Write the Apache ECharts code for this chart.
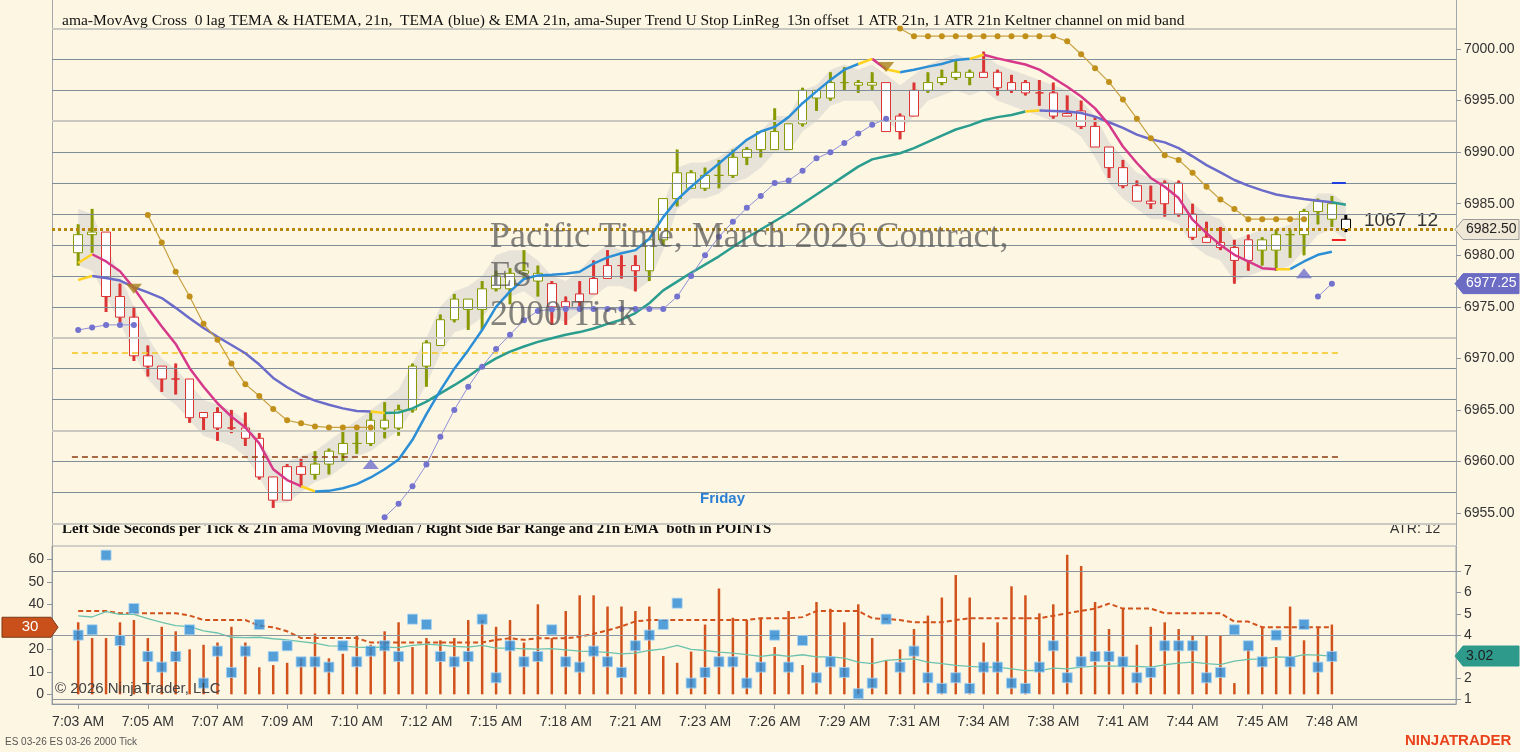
<!DOCTYPE html>
<html>
<head>
<meta charset="utf-8">
<title>ES 03-26 2000 Tick</title>
<script src="https://cdn.jsdelivr.net/npm/echarts@6.0.0/dist/echarts.min.js"></script>
<style>
  html, body { margin: 0; padding: 0; background: #fdf6e3; }
  #chart { width: 1520px; height: 752px; }
</style>
</head>
<body>
<div id="chart"></div>
<script>
// ---------- data ----------
// x labels, one every 5 bars starting at bar 0
const timeLabels = ['7:03 AM','7:05 AM','7:07 AM','7:09 AM','7:10 AM','7:12 AM','7:15 AM','7:18 AM','7:21 AM',
  '7:23 AM','7:26 AM','7:29 AM','7:31 AM','7:34 AM','7:38 AM','7:41 AM','7:44 AM','7:45 AM','7:48 AM'];
const priceTicks = [6955, 6960, 6965, 6970, 6975, 6980, 6985, 6990, 6995, 7000];
const priceGrid = [6954, 6957, 6960, 6963, 6966, 6969, 6972, 6975, 6978, 6981, 6984, 6987, 6990, 6993, 6996, 6999, 7002];
const priceGridLight = [6954, 6963, 6972, 6993, 7002];
const secTicks = [0, 10, 20, 30, 40, 50, 60];
const ptsTicks = [1, 2, 3, 4, 5, 6, 7];
const ptsGrid = [1, 4, 7];

// [open, close, low, high]
const candles = [
  [6980.25,6982.0,6979.0,6983.0],[6982.0,6982.25,6980.25,6984.5],[6982.25,6976.0,6974.5,6982.25],[6976.0,6974.0,6973.5,6977.25],
  [6974.0,6970.25,6969.75,6975.0],[6970.25,6969.25,6968.25,6971.25],[6969.25,6968.0,6966.75,6969.25],[6968.0,6968.0,6966.5,6969.5],
  [6968.0,6964.25,6963.75,6968.0],[6964.25,6964.75,6963.0,6964.75],[6964.75,6963.25,6962.0,6965.25],[6963.25,6963.25,6962.75,6965.0],
  [6963.25,6962.25,6961.5,6964.75],[6962.25,6958.5,6958.25,6962.75],[6958.5,6956.25,6955.5,6958.5],[6956.25,6959.5,6956.25,6959.75],
  [6959.5,6958.75,6957.5,6960.25],[6958.75,6959.75,6958.25,6961.0],[6959.75,6961.0,6958.75,6961.25],[6960.75,6961.75,6960.0,6963.5],
  [6961.75,6961.75,6960.75,6963.5],[6961.75,6964.0,6961.5,6964.75],[6964.0,6963.25,6962.25,6965.75],[6963.25,6965.0,6962.5,6965.5],
  [6965.0,6969.25,6964.75,6969.5],[6969.25,6971.5,6967.25,6971.75],[6971.25,6973.75,6971.25,6974.25],[6973.75,6975.75,6973.5,6976.25],
  [6975.75,6974.75,6972.75,6975.75],[6974.75,6976.75,6972.75,6977.5],[6976.75,6978.0,6976.5,6978.5],[6976.75,6978.25,6975.25,6978.75],
  [6978.25,6978.5,6977.75,6980.5],[6978.25,6977.5,6976.0,6979.0],[6977.25,6975.0,6973.25,6977.5],[6975.0,6975.5,6973.25,6976.0],
  [6975.5,6976.25,6975.0,6977.5],[6976.25,6977.75,6976.25,6979.5],[6977.75,6979.0,6977.75,6980.5],[6979.0,6979.0,6977.75,6980.0],
  [6979.0,6978.5,6976.5,6980.0],[6978.5,6981.5,6977.5,6981.5],[6981.5,6985.5,6981.0,6985.5],[6985.5,6988.0,6984.75,6990.25],
  [6988.0,6986.5,6986.5,6988.25],[6986.5,6987.75,6986.25,6988.5],[6987.75,6987.75,6986.5,6989.25],[6987.75,6989.5,6987.5,6990.25],
  [6989.5,6990.25,6988.75,6990.5],[6990.25,6992.0,6989.5,6992.0],[6992.0,6990.25,6990.25,6994.25],[6990.25,6992.75,6990.25,6992.75],
  [6992.75,6996.0,6992.5,6996.25],[6996.0,6995.25,6994.0,6996.0],[6995.25,6996.75,6995.0,6997.75],[6996.75,6996.75,6996.0,6998.25],
  [6996.75,6996.5,6995.75,6997.0],[6996.5,6996.75,6996.0,6997.75],[6996.75,6992.0,6992.0,6996.75],[6992.0,6993.5,6991.25,6993.75],
  [6993.5,6996.0,6993.5,6996.75],[6996.0,6996.75,6995.75,6997.75],[6996.75,6997.25,6996.5,6998.0],[6997.25,6997.75,6997.0,6999.0],
  [6997.75,6997.25,6996.5,6998.0],[6997.25,6997.75,6997.25,6999.75],[6997.75,6996.25,6995.5,6998.0],[6996.0,6996.75,6995.75,6997.5],
  [6996.75,6995.75,6995.5,6997.0],[6995.75,6995.75,6994.5,6997.0],[6995.75,6993.5,6993.25,6996.75],[6993.5,6993.75,6993.5,6995.5],
  [6994.0,6992.5,6992.25,6995.0],[6992.5,6990.5,6990.5,6993.5],[6990.5,6988.5,6987.5,6990.5],[6988.5,6986.75,6986.5,6989.25],
  [6986.75,6985.25,6985.25,6987.25],[6985.25,6985.0,6984.5,6986.75],[6985.0,6987.0,6983.75,6987.25],[6987.0,6984.0,6983.75,6987.25],
  [6984.0,6981.75,6981.5,6985.0],[6981.75,6981.25,6981.25,6983.25],[6981.25,6980.75,6980.5,6982.75],[6980.75,6979.5,6977.25,6981.5],
  [6979.5,6981.5,6978.5,6982.0],[6981.5,6980.5,6979.0,6981.75],[6980.5,6982.0,6978.5,6982.5],[6982.0,6982.0,6979.75,6982.5],
  [6982.0,6984.25,6980.0,6984.5],[6984.25,6985.25,6983.0,6985.5],[6985.0,6983.5,6982.75,6985.75],[6983.5,6982.5,6982.25,6984.0]
];
// outline / wick colour per bar, run-length: g = up trend, r = down trend, k = live bar
const candleRuns = [['g',2],['r',15],['g',17],['r',7],['g',17],['r',3],['g',4],['r',20],['g',6],['k',1]];

// Keltner channel shading
const bandLo = [6979.0,6978.5,6976.0,6973.5,6970.5,6968.0,6966.5,6965.5,6964.0,6962.5,6962.0,6961.5,6960.5,6958.5,6956.0,6956.0,
  6957.0,6958.0,6958.5,6959.5,6960.5,6961.0,6962.0,6963.0,6965.0,6967.5,6970.5,6972.5,6973.0,6974.0,6975.5,6976.0,
  6976.5,6975.5,6974.0,6973.5,6974.5,6976.0,6977.0,6977.0,6976.5,6977.5,6980.5,6984.5,6985.5,6985.5,6986.0,6987.0,
  6987.5,6988.5,6990.0,6990.0,6992.0,6993.0,6994.5,6995.0,6995.0,6995.0,6993.0,6992.0,6993.5,6995.0,6995.5,6996.0,
  6995.5,6996.0,6995.0,6994.5,6994.0,6993.5,6993.0,6992.5,6991.5,6989.5,6987.0,6985.5,6984.5,6983.5,6983.5,6983.0,
  6981.0,6980.0,6979.5,6977.5,6978.0,6978.5,6978.5,6979.0,6980.5,6982.0,6982.5,6981.5];
const bandHi = [6984.5,6984.0,6981.0,6978.0,6975.0,6972.0,6970.0,6969.0,6967.5,6966.0,6965.5,6965.0,6964.0,6962.0,6960.0,6960.0,
  6960.5,6961.0,6962.0,6963.0,6964.0,6965.0,6966.0,6967.0,6969.5,6972.0,6975.0,6976.5,6977.0,6978.0,6980.0,6980.5,
  6980.5,6979.5,6978.0,6977.5,6978.5,6980.0,6981.0,6980.5,6980.5,6981.5,6985.0,6988.5,6989.0,6989.0,6989.5,6990.5,
  6991.0,6992.0,6993.5,6993.5,6996.0,6996.5,6998.0,6998.5,6998.0,6998.5,6997.5,6996.5,6997.5,6998.5,6999.0,6999.5,
  6999.0,6999.5,6998.5,6998.0,6997.5,6997.0,6996.5,6996.0,6995.0,6993.5,6991.0,6989.5,6988.0,6987.5,6987.5,6987.0,
  6985.0,6984.0,6983.5,6981.5,6982.0,6982.5,6982.5,6983.0,6984.5,6986.0,6986.0,6985.0];

// 0 lag TEMA / HATEMA line; segment colours: a = down (pink), b = up (blue), y = cross
const temaVals = [6979.25,6980.1,6979.4,6978.45,6976.8,6974.9,6973.1,6971.4,6969.05,6967.25,6965.65,6964.35,6963.3,6961.75,6959.25,6958.2,
  6957.6,6957.1,6957.15,6957.4,6957.8,6958.45,6959.25,6960.2,6962.1,6964.6,6966.9,6969.0,6970.8,6972.75,6975.0,6976.5,
  6977.7,6978.05,6978.1,6978.2,6978.4,6979.2,6979.8,6980.2,6980.5,6981.6,6983.7,6985.4,6986.65,6987.8,6988.9,6990.05,
  6991.2,6992.0,6992.45,6993.4,6994.75,6995.9,6997.0,6998.0,6998.55,6999.05,6998.05,6997.75,6998.0,6998.3,6998.55,6998.95,
  6999.05,6999.45,6999.1,6998.8,6998.5,6998.0,6997.2,6996.35,6995.4,6994.25,6992.65,6990.55,6988.95,6987.5,6986.65,6985.55,
  6983.45,6982.15,6981.0,6980.05,6979.4,6978.75,6978.65,6978.65,6979.4,6980.05,6980.35,null];
const temaRuns = [['y',1],['a',15],['y',1],['b',39],['y',1],['a',1],['y',1],['b',5],['y',1],['a',21],['y',1],['b',3],['-',1]];

// EMA 21 line; a = down (slate blue), b = up (teal)
const emaVals = [6977.6,6978.0,6977.8,6977.55,6976.9,6976.4,6975.85,6974.9,6973.9,6972.95,6972.1,6971.3,6970.5,6969.4,6968.1,6967.2,
  6966.45,6965.9,6965.5,6965.15,6964.9,6964.85,6964.7,6964.75,6965.15,6965.8,6966.6,6967.4,6968.25,6969.2,6970.0,6970.65,
  6971.15,6971.6,6971.95,6972.3,6972.55,6972.9,6973.35,6973.75,6974.4,6975.35,6976.6,6977.45,6978.3,6979.1,6979.9,6980.8,
  6981.7,6982.5,6983.3,6984.1,6985.0,6985.9,6986.8,6987.7,6988.6,6989.3,6989.6,6989.9,6990.4,6991.0,6991.6,6992.2,
  6992.6,6993.1,6993.4,6993.6,6993.95,6994.05,6994.0,6993.95,6993.8,6993.45,6992.9,6992.35,6991.7,6991.25,6990.95,6990.4,
  6989.6,6988.75,6988.05,6987.3,6986.75,6986.3,6985.9,6985.65,6985.45,6985.3,6985.15,6984.9];
const emaRuns = [['y',1],['a',20],['y',1],['b',46],['y',1],['a',21],['b',1]];

// Super Trend stops: [first bar, values]
const stUpSegs = [
  [0, [6972.75,6973.0,6973.25,6973.25,6973.25]],
  [22, [6954.6,6955.9,6957.6,6959.7,6962.4,6965.0,6967.25,6969.2,6970.9,6972.3,6973.7,6974.6,6974.75,6974.8,6974.8,6974.8,
        6974.8,6974.8,6974.8,6974.8,6974.8,6976.0,6978.0,6980.0,6981.8,6983.25,6984.6,6985.75,6987.0,6987.25,6988.2,6989.4,
        6990.0,6990.9,6991.8,6992.65,6993.25]],
  [89, [6976.0,6977.25]]
];
const stDnSegs = [
  [5, [6983.9,6981.25,6978.4,6976.0,6973.35,6971.8,6969.5,6967.5,6966.35,6965.1,6964.0,6963.7,6963.4,6963.3,6963.3,6963.3,6963.3]],
  [59, [7002.0,7001.25,7001.25,7001.25,7001.25,7001.25,7001.25,7001.25,7001.25,7001.25,7001.25,7001.25,7000.75,6999.5,6998.15,
        6996.8,6995.1,6993.25,6991.35,6989.7,6989.25,6988.0,6986.65,6985.4,6984.5,6983.5,6983.5,6983.5,6983.5,6983.5]]
];
const flipDown = [[4, 6976.75], [58, 6998.25]];
const flipUp = [[21, 6959.75], [88, 6978.25]];
const levelHigh = 6970.5, levelLow = 6960.5;
const projHigh = 6987.0, projLow = 6981.5;

// lower panel
const secPerTick = [32,25,25,32,33,25,30,28,20,22,23,30,23,12,13,14,16,27,16,18,26,22,28,32,21,25,24,25,33,33,30,33,
  23,40,25,37,44,44,39,39,37,39,17,14,19,31,47,34,33,34,21,37,13,41,38,32,40,25,15,20,29,35,
  43,53,43,23,32,48,44,36,40,62,57,41,29,38,22,30,32,29,26,26,26,5,20,30,21,39,24,30,31];
const secMedian = [37,37,37,36,36,36,36,36,35,33,33,33,33,30.5,29.8,28,25,25,25,25,25,23,23,23,23,23,23,23,23,23,24.2,24.9,
  24.2,24.9,24.9,24.9,25.6,26.9,28.4,30.2,32.4,33,33,33,33,33,33,33,33,33.8,33.8,33.8,34.3,37,37,37,37,33.8,33.5,33,32,32,
  32,33,33.8,33.8,33.8,33.8,33.8,33.8,34.9,36,37.1,38.1,40.3,38.1,38.1,38.1,36,36,36,36,36,32.3,32.3,29.8,29.8,29.8,29.8,29.8,29.8];
const barRange = [4.0,4.25,7.75,3.75,5.25,3.0,2.5,3.0,4.25,1.75,3.25,2.25,3.25,4.5,3.0,3.5,2.75,2.75,2.5,3.5,2.75,3.25,3.5,3.0,
  4.75,4.5,3.0,2.75,3.0,4.75,2.0,3.5,2.75,3.0,4.25,2.75,2.5,3.25,2.75,2.25,3.5,4.0,4.5,5.5,1.75,2.25,2.75,2.75,
  1.75,2.5,4.0,2.5,3.75,2.0,2.75,2.25,1.25,1.75,4.75,2.5,3.25,2.0,1.5,2.0,1.5,2.5,2.5,1.75,1.5,2.5,3.5,2.0,
  2.75,3.0,3.0,2.75,2.0,2.25,3.5,3.5,3.5,2.0,2.25,4.25,3.5,2.75,4.0,2.75,4.5,2.5,3.0];
const rangeEma = [4.9,4.85,5.1,4.97,4.97,4.77,4.6,4.45,4.4,4.2,4.1,3.9,3.88,3.9,3.83,3.78,3.7,3.62,3.5,3.48,3.44,3.42,3.44,3.41,
  3.52,3.58,3.53,3.47,3.44,3.52,3.39,3.39,3.36,3.34,3.37,3.31,3.25,3.23,3.19,3.12,3.16,3.28,3.36,3.52,3.33,3.28,3.2,3.16,
  3.09,3.0,3.08,3.0,3.08,2.98,2.98,2.92,2.73,2.66,2.82,2.86,2.89,2.73,2.66,2.58,2.53,2.5,2.5,2.42,2.34,2.34,2.45,2.42,
  2.5,2.55,2.55,2.55,2.53,2.5,2.61,2.69,2.73,2.66,2.62,2.78,2.86,2.89,2.98,2.95,3.09,3.06,3.02];

// ---------- build ----------
const SERIF = '"Liberation Serif", "DejaVu Serif", serif';
const SANS = '"Liberation Sans", Arial, sans-serif';
const OLIVE = '#879a03', RED = '#dc3333';
const trendColour = { g: OLIVE, r: RED, k: '#000000' };

function expand(runs) { return runs.map(r => r[0].repeat(r[1])).join(''); }
const candleTrend = expand(candleRuns);

function colouredLine(values, runs, palette, width, z) {
  const codes = expand(runs);
  return Object.keys(palette).map(code => {
    const data = [];
    let last = -5;
    for (let i = 0; i < codes.length; i++) {
      if (codes[i] !== code) continue;
      if (last !== i) {
        if (data.length) data.push([i, null]);
        data.push([i, values[i]]);
      }
      data.push([i + 1, values[i + 1]]);
      last = i + 1;
    }
    return { type: 'line', xAxisIndex: 0, yAxisIndex: 0, data, showSymbol: false, connectNulls: false,
      lineStyle: { color: palette[code], width }, z, silent: true };
  });
}

function segData(segs) {
  const d = [];
  segs.forEach(([start, vals], k) => {
    if (k) d.push([start - 0.5, null]);
    vals.forEach((v, j) => d.push([start + j, v]));
  });
  return d;
}

const X_MIN = -1.88, X_MAX = 98.91;
const P_MIN = 6951.9, P_MAX = 7004.76;
const labelIdx = timeLabels.map((t, k) => k * 5);

const gridLines = priceGrid.map(v => ({
  yAxis: v,
  lineStyle: priceGridLight.includes(v) ? { color: '#c9c9c1', width: 2, type: 'solid' } : { color: '#7f8d99', width: 1, type: 'solid' }
}));

const axisGrey = '#a3a8ad', tickGrey = '#8f979e';

const option = {
  backgroundColor: '#fdf6e3',
  animation: false,
  grid: [
    { left: 52, right: 64, top: 0, height: 545 },
    { left: 52, right: 64, top: 546, height: 158, show: true, borderColor: axisGrey, borderWidth: 1, backgroundColor: 'transparent' }
  ],
  xAxis: [
    { type: 'value', gridIndex: 0, min: X_MIN, max: X_MAX, show: false, axisLine: { onZero: false } },
    { type: 'value', gridIndex: 1, min: X_MIN, max: X_MAX, position: 'bottom',
      axisLine: { show: true, onZero: false, lineStyle: { color: tickGrey } },
      axisTick: { show: true, customValues: labelIdx, length: 5, lineStyle: { color: tickGrey } },
      axisLabel: { customValues: labelIdx, formatter: v => timeLabels[Math.round(v / 5)] || '', color: '#333', fontFamily: SANS, fontSize: 14, margin: 11 },
      splitLine: { show: false } }
  ],
  yAxis: [
    { type: 'value', gridIndex: 0, position: 'right', min: P_MIN, max: P_MAX,
      axisLine: { show: true, onZero: false, lineStyle: { color: axisGrey } },
      axisTick: { show: true, customValues: priceTicks, length: 5, lineStyle: { color: tickGrey } },
      axisLabel: { customValues: priceTicks, formatter: v => v.toFixed(2), color: '#333', fontFamily: SANS, fontSize: 14, margin: 8 },
      splitLine: { show: false } },
    { type: 'value', gridIndex: 0, position: 'left', min: P_MIN, max: P_MAX,
      axisLine: { show: true, onZero: false, lineStyle: { color: axisGrey } }, axisTick: { show: false }, axisLabel: { show: false }, splitLine: { show: false } },
    { type: 'value', gridIndex: 1, position: 'left', min: -4.3, max: 65.9,
      axisLine: { show: true, onZero: false, lineStyle: { color: tickGrey } },
      axisTick: { show: true, customValues: secTicks, length: 5, lineStyle: { color: tickGrey } },
      axisLabel: { customValues: secTicks, color: '#333', fontFamily: SANS, fontSize: 14, margin: 8 },
      splitLine: { show: false } },
    { type: 'value', gridIndex: 1, position: 'right', min: 0.77, max: 8.18,
      axisLine: { show: true, onZero: false, lineStyle: { color: axisGrey } },
      axisTick: { show: true, customValues: ptsTicks, length: 5, lineStyle: { color: tickGrey } },
      axisLabel: { customValues: ptsTicks, color: '#333', fontFamily: SANS, fontSize: 14, margin: 8 },
      splitLine: { show: false } }
  ],
  series: [
    // price grid lines
    { type: 'line', xAxisIndex: 0, yAxisIndex: 0, data: [[0, candles[0][1]]], showSymbol: false, lineStyle: { opacity: 0 }, silent: true, z: 0,
      markLine: { silent: true, symbol: 'none', label: { show: false }, animation: false, data: gridLines } },
    // Keltner shading
    { type: 'custom', xAxisIndex: 0, yAxisIndex: 0, silent: true, z: 1, data: [[0, bandLo[0]]],
      renderItem: (params, api) => {
        const pts = [];
        for (let i = 0; i < bandHi.length; i++) pts.push(api.coord([i, bandHi[i]]));
        for (let i = bandLo.length - 1; i >= 0; i--) pts.push(api.coord([i, bandLo[i]]));
        return { type: 'polygon', shape: { points: pts }, style: { fill: 'rgba(200,200,200,0.42)' } };
      } },
    // horizontal levels
    { type: 'line', xAxisIndex: 0, yAxisIndex: 0, data: [[0, candles[0][1]]], showSymbol: false, lineStyle: { opacity: 0 }, silent: true, z: 2,
      markLine: { silent: true, symbol: 'none', label: { show: false }, animation: false, data: [
        [{ coord: [-0.45, levelHigh], lineStyle: { color: '#f5c518', width: 1.5, type: [6, 4] } }, { coord: [90.5, levelHigh] }],
        [{ coord: [-0.45, levelLow], lineStyle: { color: '#8b3b12', width: 1.5, type: [6, 4] } }, { coord: [90.5, levelLow] }]
      ] } },
    // wicks
    { type: 'custom', xAxisIndex: 0, yAxisIndex: 0, silent: true, z: 3,
      data: candles.map((c, i) => [i, c[2], c[3]]),
      encode: { x: 0, y: [1, 2] },
      renderItem: (params, api) => {
        const i = api.value(0);
        const lo = api.coord([i, api.value(1)]);
        const hi = api.coord([i, api.value(2)]);
        return { type: 'rect', shape: { x: hi[0] - 1.5, y: hi[1], width: 3, height: Math.max(1, lo[1] - hi[1]) },
          style: { fill: trendColour[candleTrend[i]] } };
      } },
    // candle bodies
    { type: 'candlestick', xAxisIndex: 0, yAxisIndex: 0, barWidth: 9, silent: true, z: 4,
      data: candles.map((c, i) => ({
        value: [i, c[0], c[1], c[2], c[3]],
        itemStyle: { color: '#ffffff', color0: '#000000', borderColor: trendColour[candleTrend[i]], borderColor0: trendColour[candleTrend[i]], borderWidth: 1 }
      })),
      markLine: { silent: true, symbol: 'none', label: { show: false }, animation: false, data: [
        { yAxis: candles[candles.length - 1][1], lineStyle: { color: '#b8860b', width: 3, type: [3, 3] } },
        [{ coord: [90, projHigh], lineStyle: { color: '#1f3fe0', width: 2, type: 'solid' } }, { coord: [91, projHigh] }],
        [{ coord: [90, projLow], lineStyle: { color: '#ee2020', width: 2, type: 'solid' } }, { coord: [91, projLow] }]
      ] } },
    ...colouredLine(emaVals, emaRuns, { a: '#6b6bc9', b: '#2a9d8f', y: '#ffd21f' }, 2.5, 5),
    ...colouredLine(temaVals, temaRuns, { a: '#d6398a', b: '#2c8fd6', y: '#ffd21f' }, 2.5, 6),
    // super trend stops
    { type: 'line', xAxisIndex: 0, yAxisIndex: 0, data: segData(stDnSegs), connectNulls: false, symbol: 'circle', symbolSize: 6, showSymbol: true,
      itemStyle: { color: '#c0901a' }, lineStyle: { color: '#c8a040', width: 1.2 }, silent: true, z: 7 },
    { type: 'line', xAxisIndex: 0, yAxisIndex: 0, data: segData(stUpSegs), connectNulls: false, symbol: 'circle', symbolSize: 6, showSymbol: true,
      itemStyle: { color: '#7373cf' }, lineStyle: { color: '#9090d8', width: 1 }, silent: true, z: 7 },
    { type: 'scatter', xAxisIndex: 0, yAxisIndex: 0, data: flipDown, symbol: 'triangle', symbolRotate: 180, symbolSize: [16, 10],
      itemStyle: { color: '#a8801a' }, silent: true, z: 8 },
    { type: 'scatter', xAxisIndex: 0, yAxisIndex: 0, data: flipUp, symbol: 'triangle', symbolSize: [16, 10],
      itemStyle: { color: '#6f6fcc' }, silent: true, z: 8 },

    // lower panel
    { type: 'bar', xAxisIndex: 1, yAxisIndex: 2, data: secPerTick.map((v, i) => [i, v]), barWidth: 2.5,
      itemStyle: { color: '#d2521c' }, silent: true, z: 3 },
    { type: 'line', xAxisIndex: 1, yAxisIndex: 2, data: secMedian.map((v, i) => [i, v]), showSymbol: false,
      lineStyle: { color: '#d2521c', width: 2, type: [5, 3] }, silent: true, z: 4 },
    { type: 'line', xAxisIndex: 1, yAxisIndex: 3, data: rangeEma.map((v, i) => [i, v]), showSymbol: false,
      lineStyle: { color: '#6cc3ad', width: 1.3 }, silent: true, z: 4,
      markLine: { silent: true, symbol: 'none', label: { show: false }, animation: false,
        data: ptsGrid.map(v => ({ yAxis: v, lineStyle: { color: tickGrey, width: 1, type: 'solid' } })) } },
    { type: 'scatter', xAxisIndex: 1, yAxisIndex: 3, data: barRange.map((v, i) => [i, v]), symbol: 'rect', symbolSize: 10,
      itemStyle: { color: '#2a8ad6', borderColor: '#a9d4f2', borderWidth: 1 }, silent: true, z: 5 }
  ]
};

const chart = echarts.init(document.getElementById('chart'), null, { renderer: 'canvas' });
chart.setOption(option);

// ---------- text & value flags ----------
const yPrice = v => chart.convertToPixel({ yAxisIndex: 0 }, v);
const ySec = v => chart.convertToPixel({ yAxisIndex: 2 }, v);
const yPts = v => chart.convertToPixel({ yAxisIndex: 3 }, v);

function rightFlag(y, text, fill, stroke, textFill) {
  return { type: 'group', z: 100, children: [
    { type: 'polygon', z: 100, shape: { points: [[1455, y], [1463, y - 10], [1519, y - 10], [1519, y + 10], [1463, y + 10]] },
      style: { fill, stroke, lineWidth: 1 } },
    { type: 'text', z: 101, x: 1466, y, style: { text, fill: textFill, font: '14px ' + SANS, verticalAlign: 'middle' } }
  ] };
}

const lastClose = candles[candles.length - 1][1];
const lastStop = stUpSegs[stUpSegs.length - 1][1].slice(-1)[0];
const lastEma = rangeEma[rangeEma.length - 1];
const lastMedian = secMedian[secMedian.length - 1];
const yMed = ySec(lastMedian);

chart.setOption({ graphic: [
  { type: 'text', left: 62, top: 13, style: { text: 'ama-MovAvg Cross  0 lag TEMA & HATEMA, 21n,  TEMA (blue) & EMA 21n, ama-Super Trend U Stop LinReg  13n offset  1 ATR 21n, 1 ATR 21n Keltner channel on mid band',
    fill: '#111', font: '15.5px ' + SERIF } },
  { type: 'text', left: 490, top: 218, z: 50, style: { text: 'Pacific Time, March 2026 Contract,\nES\n2000 Tick',
    fill: 'rgba(85,85,85,0.72)', font: '36px ' + SERIF, lineHeight: 39 } },
  { type: 'text', left: 700, top: 491, style: { text: 'Friday', fill: '#2b7fd4', font: 'bold 15px ' + SANS } },
  { type: 'text', left: 62, top: 522, style: { text: 'Left Side Seconds per Tick & 21n ama Moving Median / Right Side Bar Range and 21n EMA  both in POINTS',
    fill: '#111', font: 'bold 15px ' + SERIF } },
  { type: 'text', left: 1390, top: 522, style: { text: 'ATR: 12', fill: '#333', font: '14px ' + SANS } },
  { type: 'text', left: 1364, top: 211, style: { text: '1067  12', fill: '#333', font: '19px ' + SANS } },
  { type: 'text', left: 55, top: 681, z: 50, style: { text: '\u00a9 2026 NinjaTrader, LLC', fill: '#444', font: '15px ' + SANS } },
  { type: 'text', left: 5, top: 737, style: { text: 'ES 03-26 ES 03-26 2000 Tick', fill: '#555', font: '10px ' + SANS } },
  { type: 'text', left: 1405, top: 733, style: { text: 'NINJATRADER', fill: '#e8431c', font: 'bold 15px ' + SANS } },
  rightFlag(yPrice(lastClose), lastClose.toFixed(2), '#efe8d6', '#9a9a9a', '#222'),
  rightFlag(yPrice(lastStop), lastStop.toFixed(2), '#6c6cc4', '#6c6cc4', '#ffffff'),
  rightFlag(yPts(lastEma), lastEma.toFixed(2), '#2e9a8c', '#2e9a8c', '#1d1d1d'),
  { type: 'group', z: 100, children: [
    { type: 'polygon', z: 100, shape: { points: [[2, yMed - 10], [51, yMed - 10], [58, yMed], [51, yMed + 10], [2, yMed + 10]] },
      style: { fill: '#c94f1b', stroke: '#7a3a1a', lineWidth: 1 } },
    { type: 'text', z: 101, x: 30, y: yMed, style: { text: lastMedian.toFixed(0), fill: '#ffffff', font: '15px ' + SANS, align: 'center', verticalAlign: 'middle' } }
  ] }
] });
</script>
</body>
</html>
